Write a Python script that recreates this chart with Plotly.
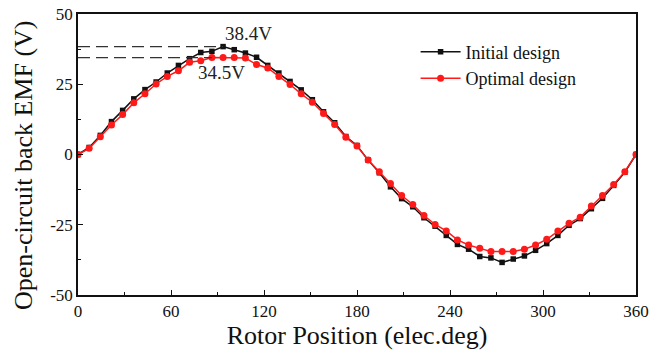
import plotly.graph_objects as go

angles = [round(7.2 * i, 1) for i in range(51)]

initial_design = [0, 2.5, 6.8, 11.7, 15.7, 19.8, 23.1, 25.8, 29.0, 31.7,
                  34.1, 36.3, 36.7, 38.4, 37.3, 36.1, 34.6, 31.7, 29.0, 26.0,
                  23.0, 19.5, 15.2, 11.3, 6.4, 3.2, -2.0, -6.5, -11.5, -15.7,
                  -18.6, -22.5, -25.5, -28.8, -32.0, -33.7, -36.3, -36.8, -38.4, -37.2,
                  -36.1, -34.1, -31.7, -28.8, -25.2, -22.8, -19.3, -15.6, -11.0, -6.3, 0]

optimal_design = [0, 2.2, 6.3, 10.5, 14.2, 18.4, 21.6, 25.1, 27.8, 29.8,
                  32.8, 33.4, 34.5, 34.5, 34.5, 34.3, 32.0, 30.8, 27.8, 24.9,
                  21.6, 18.6, 14.6, 10.7, 6.1, 3.0, -2.0, -6.1, -10.3, -14.6,
                  -17.8, -21.7, -24.9, -27.2, -30.4, -32.2, -33.4, -34.5, -34.5, -34.5,
                  -33.7, -32.2, -30.2, -27.2, -24.5, -22.3, -18.3, -14.6, -10.7, -6.1, 0]

peak_initial = 38.4
peak_optimal = 34.5
peak_initial_angle = 93.6
peak_optimal_angle = 86.4

x_ticks = [0, 60, 120, 180, 240, 300, 360]
y_ticks = [-50, -25, 0, 25, 50]

serif = "Liberation Serif, Times New Roman, serif"

fig = go.Figure()

fig.add_trace(go.Scatter(
    x=angles, y=initial_design, mode="lines+markers", name="Initial design",
    line=dict(color="#111111", width=1.5),
    marker=dict(symbol="square", size=5.5, color="#111111"),
))
fig.add_trace(go.Scatter(
    x=angles, y=optimal_design, mode="lines+markers", name="Optimal design",
    line=dict(color="#ff1a1a", width=1.5),
    marker=dict(symbol="circle", size=7, color="#ff1a1a"),
))

# dashed reference lines at the peaks
fig.add_trace(go.Scatter(
    x=[0, peak_initial_angle], y=[peak_initial, peak_initial], mode="lines",
    line=dict(color="#333333", width=1.3, dash="12px,6px"), showlegend=False,
    hoverinfo="skip",
))
fig.add_trace(go.Scatter(
    x=[0, peak_optimal_angle], y=[peak_optimal, peak_optimal], mode="lines",
    line=dict(color="#333333", width=1.3, dash="12px,6px"), showlegend=False,
    hoverinfo="skip",
))

fig.add_annotation(x=110, y=43, text="38.4V", showarrow=False,
                   font=dict(family=serif, size=19, color="#222222"))
fig.add_annotation(x=92.6, y=29.3, text="34.5V", showarrow=False,
                   font=dict(family=serif, size=19, color="#222222"))

# y-axis title as a rotated text annotation (centred slightly below the plot centre, as in the reference)
fig.add_annotation(xref="paper", yref="paper", x=-0.0986, y=0.4626,
                   text="Open-circuit back EMF (V)", textangle=-90, showarrow=False,
                   xanchor="center", yanchor="middle",
                   font=dict(family=serif, size=26, color="#111111"))

axis_common = dict(
    showline=True, linecolor="#111111", linewidth=1.5, mirror=True,
    ticks="inside", ticklen=5, tickwidth=1.2, tickcolor="#111111",
    showgrid=False, zeroline=False, automargin=False,
    tickfont=dict(family=serif, size=17, color="#111111"),
)

fig.update_xaxes(
    range=[0, 360], tickvals=x_ticks, ticktext=[str(v) for v in x_ticks],
    minor=dict(dtick=30, ticks="inside", ticklen=3, tickcolor="#111111"),
    title=dict(text="Rotor Position (elec.deg)", font=dict(family=serif, size=26, color="#111111"), standoff=2),
    **axis_common,
)
fig.update_yaxes(
    range=[-50, 50], tickvals=y_ticks, ticktext=[str(v) for v in y_ticks],
    minor=dict(dtick=12.5, ticks="inside", ticklen=3, tickcolor="#111111"),
    **axis_common,
)

fig.update_layout(
    width=651, height=356,
    margin=dict(l=78, r=15, t=14, b=61),
    paper_bgcolor="white", plot_bgcolor="white",
    font=dict(family=serif, color="#111111"),
    legend=dict(x=0.605, y=0.93, xanchor="left", yanchor="top",
                bgcolor="rgba(0,0,0,0)", font=dict(family=serif, size=18, color="#111111"),
                itemwidth=40, tracegroupgap=0),
    showlegend=True,
)

fig.write_html("out.html")
